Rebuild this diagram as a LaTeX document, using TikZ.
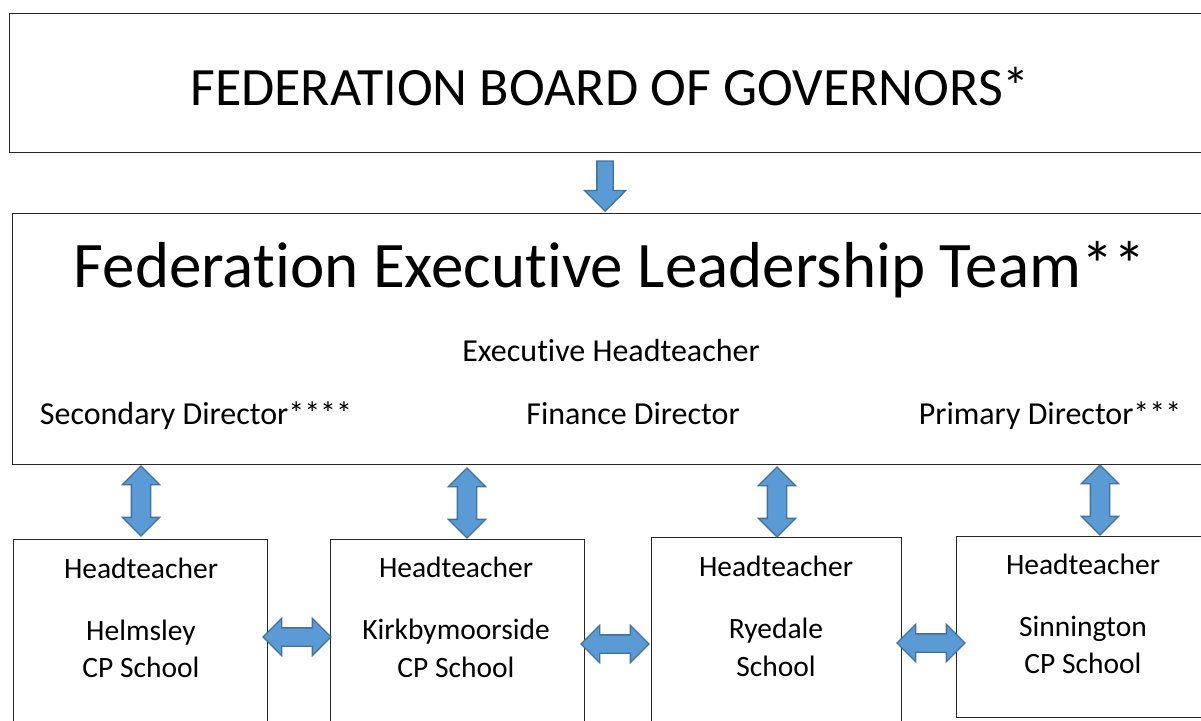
\documentclass[tikz,border=0pt]{standalone}
\usepackage{fontspec}
\setmainfont{Carlito}[Ligatures=NoCommon]
\usetikzlibrary{shapes.arrows}
\definecolor{arrowfill}{HTML}{5B9BD5}
\definecolor{arrowedge}{HTML}{41719C}

\begin{document}
\begin{tikzpicture}[x=1pt, y=-1pt,
    box/.style={draw=black!85, line width=1.2pt, anchor=north west, inner sep=0pt},
    vlink/.style={double arrow, draw=arrowedge, fill=arrowfill, line width=1.3pt, inner sep=0pt, inner ysep=9pt, double arrow head extend=9pt, minimum height=70pt, rotate=90},
    hlink/.style={double arrow, draw=arrowedge, fill=arrowfill, line width=1.3pt, inner sep=0pt, inner ysep=8.5pt, double arrow head extend=9.5pt, minimum height=68pt},
    downlink/.style={single arrow, draw=arrowedge, fill=arrowfill, line width=1.3pt, inner sep=0pt, inner ysep=7.5pt, single arrow head extend=12.5pt, minimum height=50pt, rotate=-90},
    title/.style={anchor=base, font=\fontsize{54}{60}\selectfont},
    bigtitle/.style={anchor=base, font=\fontsize{65}{72}\selectfont},
    role/.style={anchor=base, font=\fontsize{32}{38}\selectfont},
    school/.style={anchor=base, font=\fontsize{29.5}{34}\selectfont}
]
\useasboundingbox (0,0) rectangle (1201,720);
\clip (0,0) rectangle (1201,720);

% boxes
\node[box, minimum width=1240pt, minimum height=139pt] (board) at (9,13) {};
\node[box, minimum width=1240pt, minimum height=251pt] (felt) at (12,213) {};
\node[box, minimum width=254pt, minimum height=250pt] (helmsley) at (13,539) {};
\node[box, minimum width=254pt, minimum height=250pt] (kirkby) at (330,539) {};
\node[box, minimum width=250pt, minimum height=250pt] (ryedale) at (651,537) {};
\node[box, minimum width=300pt, minimum height=181pt] (sinnington) at (956,536) {};

% texts
\node[title] (boardtxt) at (610,105) {FEDERATION BOARD OF GOVERNORS*};
\node[bigtitle] (felttxt) at (610,287) {Federation Executive Leadership Team**};
\node[role] (exec) at (611,361) {Executive Headteacher};
\node[role] (secdir) at (196,424) {Secondary Director****};
\node[role] (findir) at (633,424) {Finance Director};
\node[role] (pridir) at (1050,424) {Primary Director***};

\node[school] (hhead) at (141,578) {Headteacher};
\node[school] (hname) at (141,640) {Helmsley};
\node[school] (hcp) at (141,677) {CP School};
\node[school] (khead) at (456,577) {Headteacher};
\node[school] (kname) at (456,639) {Kirkbymoorside};
\node[school] (kcp) at (456,677) {CP School};
\node[school] (rhead) at (776,576) {Headteacher};
\node[school] (rname) at (776,638) {Ryedale};
\node[school] (rcp) at (776,676) {School};
\node[school] (shead) at (1083,574) {Headteacher};
\node[school] (sname) at (1083,636) {Sinnington};
\node[school] (scp) at (1083,673) {CP School};

% arrows
\node[downlink] (down) at (605,182) {};
\node[vlink] (vh) at (141,501) {};
\node[vlink] (vk) at (467,503) {};
\node[vlink] (vr) at (777,502) {};
\node[vlink] (vs) at (1100,500) {};
\node[hlink] (hk) at (297,637) {};
\node[hlink] (kr) at (615,644) {};
\node[hlink] (rs) at (931,643) {};

\end{tikzpicture}
\end{document}
